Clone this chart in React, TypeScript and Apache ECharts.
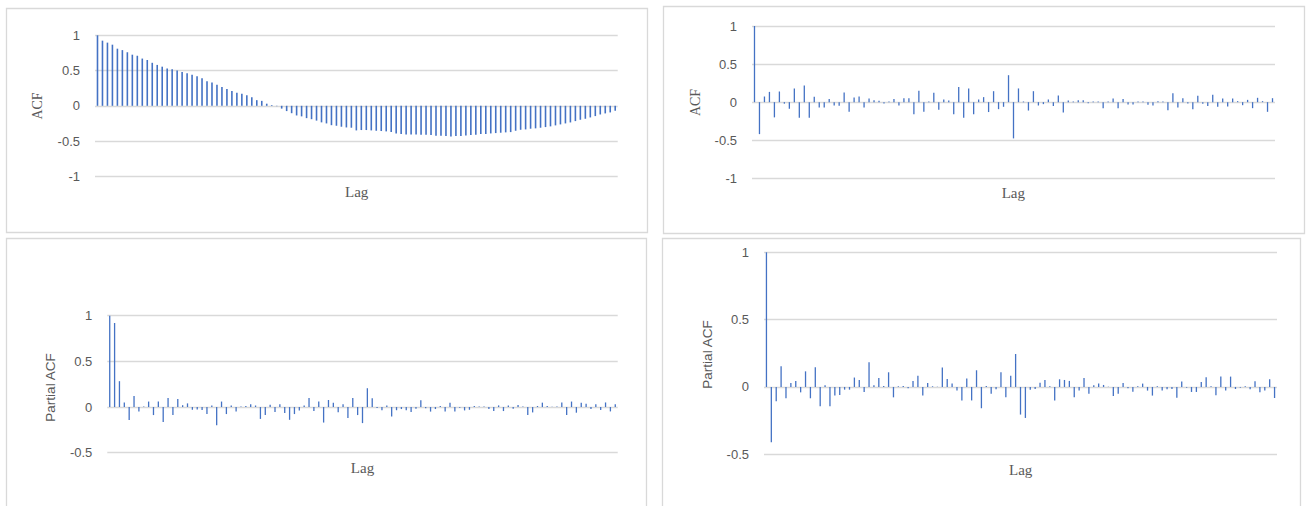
import React, { useEffect, useRef } from "react";
import * as echarts from "echarts";

// ---- data ----
const lags: string[] = Array.from({ length: 105 }, (_, i) => String(i));

const acfLevel: number[] = [
  1.0, 0.924, 0.896, 0.867, 0.81, 0.79, 0.76, 0.725, 0.71, 0.67,
  0.65, 0.61, 0.58, 0.555, 0.53, 0.52, 0.5, 0.48, 0.46, 0.44,
  0.42, 0.39, 0.35, 0.33, 0.3, 0.265, 0.24, 0.21, 0.185, 0.17,
  0.15, 0.12, 0.08, 0.07, 0.03, 0.01, -0.005, -0.04, -0.075, -0.105,
  -0.137, -0.15, -0.175, -0.19, -0.21, -0.235, -0.25, -0.275, -0.283, -0.297,
  -0.307, -0.311, -0.349, -0.344, -0.344, -0.349, -0.354, -0.358, -0.363, -0.373,
  -0.392, -0.4, -0.406, -0.406, -0.406, -0.41, -0.41, -0.415, -0.425, -0.425,
  -0.429, -0.434, -0.429, -0.429, -0.42, -0.415, -0.41, -0.4, -0.4, -0.392,
  -0.387, -0.382, -0.377, -0.373, -0.354, -0.34, -0.335, -0.325, -0.32, -0.311,
  -0.302, -0.292, -0.278, -0.264, -0.25, -0.236, -0.217, -0.198, -0.184, -0.165,
  -0.146, -0.123, -0.108, -0.094, -0.07,
];

const acfDiff: number[] = [
  1.0, -0.42, 0.074, 0.135, -0.2, 0.14, -0.02, -0.087, 0.18, -0.205,
  0.22, -0.205, 0.07, -0.07, -0.07, 0.04, -0.044, -0.048, 0.127, -0.127,
  0.061, 0.074, -0.07, 0.048, 0.026, 0.017, -0.017, 0.009, 0.04, -0.044,
  0.052, 0.052, -0.16, 0.15, -0.127, 0.01, 0.122, -0.1, 0.035, 0.022,
  -0.16, 0.2, -0.205, 0.18, -0.16, 0.035, 0.066, -0.13, 0.144, -0.092,
  -0.061, 0.354, -0.476, 0.18, 0.01, -0.11, 0.144, -0.044, -0.026, 0.035,
  -0.052, 0.087, -0.135, 0.022, 0.01, 0.026, 0.026, -0.013, 0.01, 0.01,
  -0.079, 0.01, 0.048, -0.079, 0.04, -0.03, -0.03, 0.01, 0.01, -0.035,
  -0.044, 0.013, 0.01, -0.105, 0.118, -0.07, 0.052, -0.017, -0.092, 0.083,
  -0.022, -0.052, 0.096, -0.061, 0.048, -0.057, 0.048, 0.013, -0.04, 0.03,
  -0.079, 0.057, 0.013, -0.127, 0.052,
];

const pacfLevel: number[] = [
  1.0, 0.92, 0.283, 0.05, -0.143, 0.12, -0.05, 0.007, 0.06, -0.088,
  0.06, -0.165, 0.1, -0.088, 0.088, 0.02, 0.04, -0.03, -0.026, -0.033,
  -0.077, 0.018, -0.2, 0.06, -0.077, 0.018, -0.05, 0.007, 0.011, 0.03,
  0.018, -0.13, -0.088, 0.026, -0.055, 0.03, -0.066, -0.14, -0.077, -0.037,
  0.018, 0.1, -0.044, 0.06, -0.17, 0.077, 0.048, -0.058, 0.03, -0.12,
  0.1, -0.088, -0.176, 0.206, 0.095, -0.011, -0.036, 0.018, -0.105, -0.035,
  -0.022, -0.035, -0.055, -0.018, 0.075, -0.012, -0.05, -0.022, 0.011, -0.05,
  0.048, -0.05, -0.007, -0.037, -0.03, 0.011, 0.007, 0.007, -0.022, -0.044,
  0.018, -0.044, 0.018, -0.018, 0.022, 0.007, -0.088, -0.059, 0.011, 0.048,
  0.011, 0.004, 0.007, 0.05, -0.088, 0.06, -0.062, 0.048, 0.037, -0.022,
  0.03, -0.033, 0.05, -0.048, 0.03,
];

const pacfDiff: number[] = [
  1.0, -0.41, -0.106, 0.153, -0.084, 0.03, 0.045, -0.04, 0.116, -0.084,
  0.146, -0.144, 0.012, -0.144, -0.064, -0.06, -0.02, -0.02, 0.07, 0.052,
  -0.037, 0.183, 0.012, 0.067, 0.007, 0.109, -0.077, 0.005, 0.007, -0.01,
  0.045, 0.084, -0.064, 0.03, 0.005, 0.002, 0.144, 0.06, 0.025, -0.027,
  -0.1, 0.062, -0.1, 0.124, -0.158, 0.007, -0.05, -0.017, 0.109, -0.077,
  0.084, 0.245, -0.205, -0.23, -0.02, -0.015, 0.032, 0.052, 0.005, -0.1,
  0.057, 0.052, 0.045, -0.077, -0.027, 0.067, -0.05, 0.012, 0.025, 0.015,
  0.002, -0.067, -0.05, 0.03, -0.01, -0.035, 0.005, 0.025, -0.027, -0.064,
  0.005, -0.027, -0.017, -0.015, -0.08, 0.04, -0.005, -0.037, -0.037, 0.037,
  0.072, 0.005, -0.062, 0.077, -0.027, 0.077, -0.015, -0.005, 0.005, -0.017,
  0.042, -0.04, -0.027, 0.057, -0.082,
];

const yTitles: string[] = ["ACF", "ACF", "Partial ACF", "Partial ACF"];
const xTitle = "Lag";

const BAR = "#4472C4";
const GRID = "#d9d9d9";
const TEXT = "#595959";
const SANS = "'Liberation Sans', Arial, sans-serif";
const SERIF = "'Liberation Serif', 'DejaVu Serif', serif";

export default function App() {
  const ref = useRef<HTMLDivElement>(null);

  useEffect(() => {
    if (!ref.current) return;
    const chart = echarts.init(ref.current, undefined, { renderer: "svg" });

    const grids = [
      { left: 95, top: 35.3, width: 522.7, height: 141 },
      { left: 752, top: 26, width: 523, height: 152.3 },
      { left: 107.3, top: 315.7, width: 510.4, height: 137 },
      { left: 764, top: 252.3, width: 513, height: 202 },
    ];
    const yRanges = [
      [-1, 1],
      [-1, 1],
      [-0.5, 1],
      [-0.5, 1],
    ];
    const seriesData = [acfLevel, acfDiff, pacfLevel, pacfDiff];
    const barWidths = [1.6, 1.3, 1.3, 1.3];

    const panels = [
      { x: 6, y: 8, w: 641, h: 224 },
      { x: 663, y: 6, w: 641, h: 227 },
      { x: 6, y: 238, w: 640, h: 280 },
      { x: 662, y: 238, w: 638, h: 280 },
    ];
    const yTitlePos = [
      [37.5, 106],
      [695, 102.5],
      [50.8, 387.5],
      [707.5, 354.5],
    ];
    const xTitlePos = [
      [356.7, 191.5],
      [1013.3, 193],
      [362.5, 467.5],
      [1020.7, 469.5],
    ];
    const yTitleFont = [SERIF, SERIF, SANS, SANS];
    const yTitleSize = [14, 14, 13.5, 13.5];

    const graphic: any[] = [];
    panels.forEach((p) => {
      graphic.push({
        type: "rect",
        z: -10,
        silent: true,
        shape: { x: p.x + 0.5, y: p.y + 0.5, width: p.w, height: p.h },
        style: { fill: "#ffffff", stroke: GRID, lineWidth: 1.3 },
      });
    });
    yTitles.forEach((t, i) => {
      graphic.push({
        type: "text",
        x: yTitlePos[i][0],
        y: yTitlePos[i][1],
        rotation: Math.PI / 2,
        style: {
          text: t,
          fill: TEXT,
          font: `${yTitleSize[i]}px ${yTitleFont[i]}`,
          textAlign: "center",
          textVerticalAlign: "middle",
        },
      });
      graphic.push({
        type: "text",
        x: xTitlePos[i][0],
        y: xTitlePos[i][1],
        style: {
          text: xTitle,
          fill: TEXT,
          font: `15px ${SERIF}`,
          textAlign: "center",
          textVerticalAlign: "middle",
        },
      });
    });

    chart.setOption({
      animation: false,
      backgroundColor: "#ffffff",
      grid: grids.map((g) => ({ ...g, containLabel: false })),
      xAxis: grids.map((_, i) => ({
        type: "category",
        gridIndex: i,
        data: lags,
        axisLine: { show: false },
        axisTick: { show: false },
        axisLabel: { show: false },
        splitLine: { show: false },
      })),
      yAxis: grids.map((_, i) => ({
        type: "value",
        gridIndex: i,
        min: yRanges[i][0],
        max: yRanges[i][1],
        interval: 0.5,
        axisLine: { show: false },
        axisTick: { show: false },
        axisLabel: {
          color: TEXT,
          fontSize: 13,
          fontFamily: SANS,
          margin: 15,
        },
        splitLine: { lineStyle: { color: GRID, width: 1.3 } },
      })),
      series: seriesData.map((d, i) => ({
        type: "bar",
        xAxisIndex: i,
        yAxisIndex: i,
        data: d,
        barWidth: barWidths[i],
        itemStyle: { color: BAR },
        silent: true,
      })),
      graphic,
    });

    return () => chart.dispose();
  }, []);

  return (
    <div
      ref={ref}
      style={{ position: "absolute", left: 0, top: 0, width: 1308, height: 506 }}
    />
  );
}
